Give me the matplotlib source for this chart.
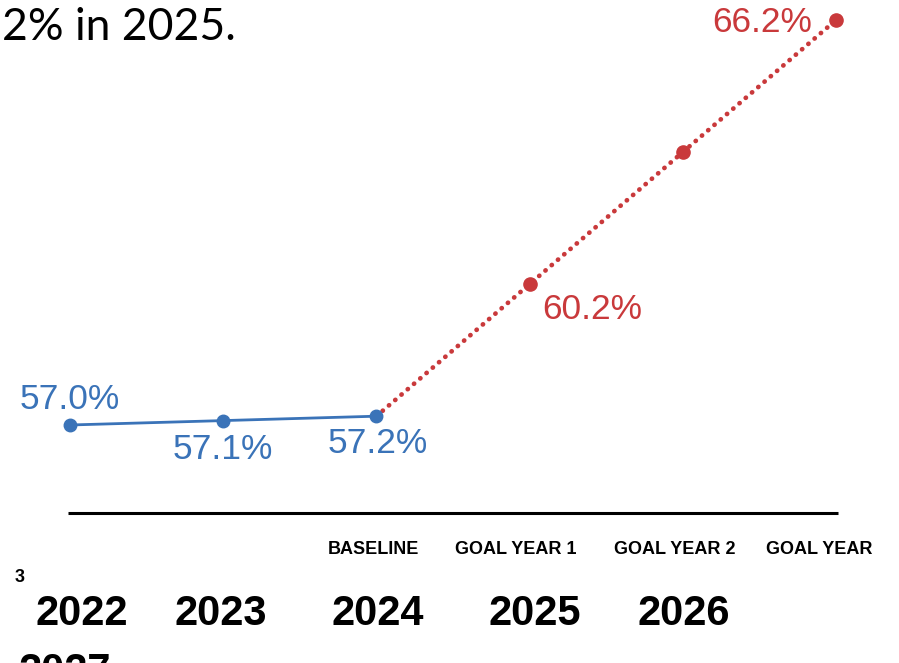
import matplotlib
matplotlib.use("Agg")
import matplotlib.pyplot as plt

years = ["2022", "2023", "2024", "2025", "2026", "2027"]
actual_values = [57.0, 57.1, 57.2]
goal_values = [57.2, 60.2, 63.2, 66.2]
period_labels = ["BASELINE", "GOAL YEAR 1", "GOAL YEAR 2", "GOAL YEAR"]
actual_labels = ["57.0%", "57.1%", "57.2%"]
goal_labels = ["60.2%", "66.2%"]

BLUE = "#3a73b8"
RED = "#c9393b"

fig = plt.figure(figsize=(8.99, 6.63), dpi=100)
ax = fig.add_axes([0, 0, 1, 1])
ax.set_xlim(-0.457, 5.411)
ax.set_ylim(51.593, 66.655)
ax.axis("off")

xa = list(range(len(actual_values)))
xg = list(range(2, 2 + len(goal_values)))

# goal dotted line
ax.plot(xg, goal_values, color=RED, lw=3.4, linestyle=(0, (0.05, 1.7)),
        dash_capstyle="round", zorder=2)
ax.plot(xg[1:], goal_values[1:], "o", color=RED, ms=9.5, zorder=3)
# actual solid line
ax.plot(xa, actual_values, color=BLUE, lw=2, zorder=4)
ax.plot(xa, actual_values, "o", color=BLUE, ms=9, zorder=5)

# baseline axis line
ax.plot([-0.01, 5.015], [55.0, 55.0], color="black", lw=2.2, solid_capstyle="butt")

lf = dict(family="Liberation Sans", fontsize=25.5)
ax.annotate(actual_labels[0], (xa[0], actual_values[0]), xytext=(0, 18.5),
            textcoords="offset points", ha="center", va="center", color=BLUE, **lf)
ax.annotate(actual_labels[1], (xa[1], actual_values[1]), xytext=(0, -21),
            textcoords="offset points", ha="center", va="center", color=BLUE, **lf)
ax.annotate(actual_labels[2], (xa[2], actual_values[2]), xytext=(1, -20),
            textcoords="offset points", ha="center", va="center", color=BLUE, **lf)
ax.annotate(goal_labels[0], (xg[1], goal_values[1]), xytext=(45, -18),
            textcoords="offset points", ha="center", va="center", color=RED, **lf)
ax.annotate(goal_labels[1], (xg[3], goal_values[3]), xytext=(-53, -2),
            textcoords="offset points", ha="center", va="center", color=RED, **lf)

# period labels under axis
period_x = [2, 3, 4, 5]
offs = [-2, -10, -6, -12]
for px, lab, o in zip(period_x, period_labels, offs):
    ax.annotate(lab, (px, 55.0), xytext=(o, -26), textcoords="offset points",
                ha="center", va="center", family="Liberation Sans",
                fontsize=13, fontweight="bold", color="black")
fig.text(20 / 899, 1 - 577 / 663, "3", ha="center", va="center",
         family="Liberation Sans", fontsize=13, fontweight="bold")

# year labels (wrapped like on the slide)
year_px = [82, 221, 378, 535, 684]
for yr, px in zip(years[:5], year_px):
    fig.text(px / 899, 1 - 614 / 663, yr, ha="center", va="center",
             family="Liberation Sans", fontsize=30, fontweight="bold")
fig.text(18 / 899, 1 - 672 / 663, years[5], ha="left", va="center",
         family="Liberation Sans", fontsize=30, fontweight="bold")

# cropped heading text
fig.text(236 / 899, 1 - 28 / 663, "2% in 2025.", ha="right", va="center",
         family="Lato", fontsize=32, color="black")

fig.savefig("out.png", dpi=100)
